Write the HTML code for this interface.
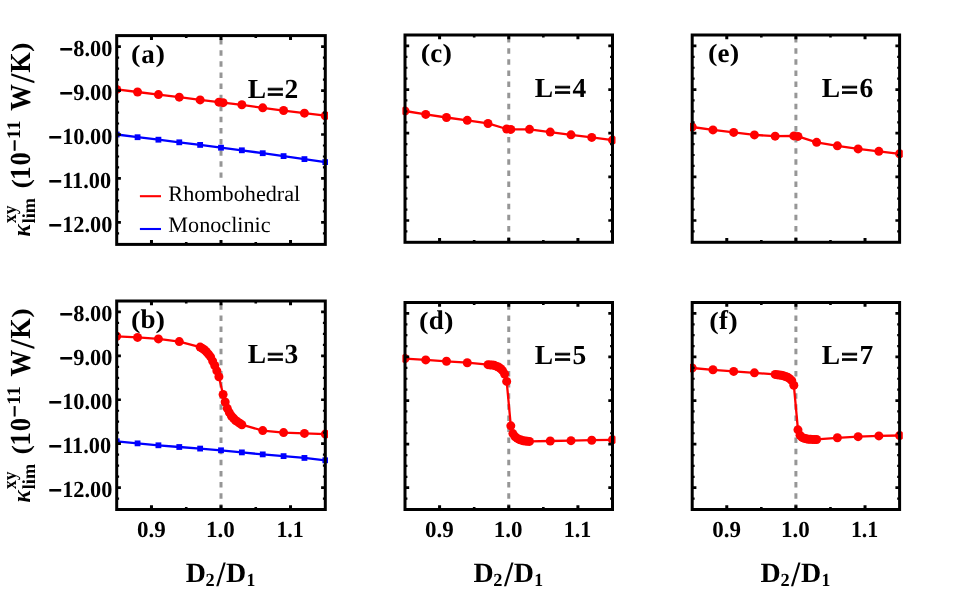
<!DOCTYPE html>
<html><head><meta charset="utf-8"><title>figure</title>
<style>html,body{margin:0;padding:0;background:#fff;}svg{display:block;will-change:transform;}text{font-family:"Liberation Serif", serif;fill:#000;text-rendering:geometricPrecision;}</style></head><body>
<svg width="970" height="592" viewBox="0 0 970 592">
<rect x="0" y="0" width="970" height="592" fill="#fff"/>
<defs>
<clipPath id="cp_a"><rect x="116.70" y="34.10" width="211.30" height="211.80"/></clipPath>
<clipPath id="cp_b"><rect x="116.70" y="299.50" width="211.30" height="211.50"/></clipPath>
<clipPath id="cp_c"><rect x="402.40" y="33.50" width="213.10" height="210.30"/></clipPath>
<clipPath id="cp_d"><rect x="402.40" y="301.00" width="213.10" height="210.00"/></clipPath>
<clipPath id="cp_e"><rect x="690.00" y="33.50" width="212.80" height="210.30"/></clipPath>
<clipPath id="cp_f"><rect x="690.00" y="301.00" width="212.80" height="210.00"/></clipPath>
</defs>
<g id="panel_a">
<g clip-path="url(#cp_a)">
<line x1="221.00" y1="27.98" x2="221.00" y2="177.86" stroke="#969696" stroke-width="3.00" stroke-dasharray="5.50 5.61"/>
<polyline points="116.70,134.50 137.56,137.21 158.42,139.70 179.28,142.31 200.14,144.91 221.00,147.70 241.86,150.30 262.72,153.20 283.58,156.10 304.44,159.11 325.30,162.10" fill="none" stroke="#0000ff" stroke-width="2.30" stroke-linejoin="round"/>
<rect x="113.80" y="131.60" width="5.80" height="5.80" fill="#0000ff"/>
<rect x="134.66" y="134.31" width="5.80" height="5.80" fill="#0000ff"/>
<rect x="155.52" y="136.80" width="5.80" height="5.80" fill="#0000ff"/>
<rect x="176.38" y="139.41" width="5.80" height="5.80" fill="#0000ff"/>
<rect x="197.24" y="142.01" width="5.80" height="5.80" fill="#0000ff"/>
<rect x="218.10" y="144.80" width="5.80" height="5.80" fill="#0000ff"/>
<rect x="238.96" y="147.40" width="5.80" height="5.80" fill="#0000ff"/>
<rect x="259.82" y="150.30" width="5.80" height="5.80" fill="#0000ff"/>
<rect x="280.68" y="153.20" width="5.80" height="5.80" fill="#0000ff"/>
<rect x="301.54" y="156.21" width="5.80" height="5.80" fill="#0000ff"/>
<rect x="322.40" y="159.20" width="5.80" height="5.80" fill="#0000ff"/>
<polyline points="116.70,89.40 137.56,92.01 158.42,94.59 179.28,97.15 200.14,99.93 218.91,102.15 223.09,102.64 241.86,104.78 262.72,107.82 283.58,110.52 304.44,113.13 325.30,115.70" fill="none" stroke="#ff0000" stroke-width="2.30" stroke-linejoin="round"/>
<circle cx="116.70" cy="89.40" r="4.50" fill="#ff0000"/>
<circle cx="137.56" cy="92.01" r="4.50" fill="#ff0000"/>
<circle cx="158.42" cy="94.59" r="4.50" fill="#ff0000"/>
<circle cx="179.28" cy="97.15" r="4.50" fill="#ff0000"/>
<circle cx="200.14" cy="99.93" r="4.50" fill="#ff0000"/>
<circle cx="218.91" cy="102.15" r="4.50" fill="#ff0000"/>
<circle cx="223.09" cy="102.64" r="4.50" fill="#ff0000"/>
<circle cx="241.86" cy="104.78" r="4.50" fill="#ff0000"/>
<circle cx="262.72" cy="107.82" r="4.50" fill="#ff0000"/>
<circle cx="283.58" cy="110.52" r="4.50" fill="#ff0000"/>
<circle cx="304.44" cy="113.13" r="4.50" fill="#ff0000"/>
<circle cx="325.30" cy="115.70" r="4.50" fill="#ff0000"/>
</g>
<rect x="116.70" y="35.60" width="208.60" height="208.80" fill="none" stroke="#000" stroke-width="3.00"/>
<path d="M151.47 244.40V240.10M151.47 35.60V39.90M221.00 244.40V240.10M221.00 35.60V39.90M290.53 244.40V240.10M290.53 35.60V39.90" stroke="#000" stroke-width="3.00" fill="none"/>
<path d="M186.23 244.40V242.00M186.23 35.60V38.00M255.77 244.40V242.00M255.77 35.60V38.00" stroke="#000" stroke-width="2.60" fill="none"/>
<path d="M116.70 222.42H120.90M325.30 222.42H321.10M116.70 178.46H120.90M325.30 178.46H321.10M116.70 134.51H120.90M325.30 134.51H321.10M116.70 90.55H120.90M325.30 90.55H321.10M116.70 46.59H120.90M325.30 46.59H321.10" stroke="#000" stroke-width="2.70" fill="none"/>
<path d="M116.70 233.41H119.10M325.30 233.41H322.90M116.70 211.43H119.10M325.30 211.43H322.90M116.70 200.44H119.10M325.30 200.44H322.90M116.70 189.45H119.10M325.30 189.45H322.90M116.70 167.47H119.10M325.30 167.47H322.90M116.70 156.48H119.10M325.30 156.48H322.90M116.70 145.49H119.10M325.30 145.49H322.90M116.70 123.52H119.10M325.30 123.52H322.90M116.70 112.53H119.10M325.30 112.53H322.90M116.70 101.54H119.10M325.30 101.54H322.90M116.70 79.56H119.10M325.30 79.56H322.90M116.70 68.57H119.10M325.30 68.57H322.90M116.70 57.58H119.10M325.30 57.58H322.90" stroke="#000" stroke-width="2.20" fill="none"/>
<text x="131.26" y="61.60" font-size="24.80" font-weight="bold" transform="translate(132.350 0) scale(1.1461 1) translate(-132.350 0)">(</text>
<text x="155.55" y="61.60" font-size="24.80" font-weight="bold" transform="translate(156.350 0) scale(1.1461 1) translate(-156.350 0)">)</text>
<text x="141.25" y="62.50" font-size="27" font-weight="bold">a</text>
<text x="247.73" y="98.15" font-size="27.50" font-weight="bold">L</text>
<text stroke="#000" stroke-width="0.9" x="266.98" y="100.55" font-size="27.50" font-weight="bold" transform="translate(268.350 0) scale(1.1030 1) translate(-268.350 0)">=</text>
<text x="284.40" y="98.15" font-size="27.5" font-weight="bold">2</text>
<text x="73.31" y="55.84" font-size="23.00" font-weight="bold" transform="translate(74.071 0) scale(0.9720 1) translate(-74.071 0)">8.00</text>
<text stroke="#000" stroke-width="0.9" x="59.67" y="56.94" font-size="23.00" font-weight="bold" transform="translate(60.878 0) scale(1.0289 1) translate(-60.878 0)">−</text>
<text x="73.31" y="99.80" font-size="23.00" font-weight="bold" transform="translate(73.940 0) scale(0.9720 1) translate(-73.940 0)">9.00</text>
<text stroke="#000" stroke-width="0.9" x="59.67" y="100.90" font-size="23.00" font-weight="bold" transform="translate(60.878 0) scale(1.0289 1) translate(-60.878 0)">−</text>
<text x="62.10" y="143.76" font-size="23.00" font-weight="bold" transform="translate(63.941 0) scale(0.9720 1) translate(-63.941 0)">10.00</text>
<text stroke="#000" stroke-width="0.9" x="48.49" y="144.86" font-size="23.00" font-weight="bold" transform="translate(49.700 0) scale(1.0289 1) translate(-49.700 0)">−</text>
<text x="62.10" y="187.71" font-size="23.00" font-weight="bold" transform="translate(63.941 0) scale(0.9720 1) translate(-63.941 0)">11.00</text>
<text stroke="#000" stroke-width="0.9" x="48.49" y="188.81" font-size="23.00" font-weight="bold" transform="translate(49.700 0) scale(1.0289 1) translate(-49.700 0)">−</text>
<text x="62.10" y="231.67" font-size="23.00" font-weight="bold" transform="translate(63.941 0) scale(0.9720 1) translate(-63.941 0)">12.00</text>
<text stroke="#000" stroke-width="0.9" x="48.49" y="232.77" font-size="23.00" font-weight="bold" transform="translate(49.700 0) scale(1.0289 1) translate(-49.700 0)">−</text>
</g>
<g id="panel_b">
<g clip-path="url(#cp_b)">
<line x1="221.00" y1="293.18" x2="221.00" y2="509.50" stroke="#969696" stroke-width="3.00" stroke-dasharray="5.50 5.61"/>
<polyline points="116.70,441.30 137.56,443.37 158.42,445.29 179.28,447.00 200.14,448.58 221.00,450.30 241.86,452.39 262.72,454.39 283.58,456.12 304.44,457.93 325.30,460.30" fill="none" stroke="#0000ff" stroke-width="2.30" stroke-linejoin="round"/>
<rect x="113.80" y="438.40" width="5.80" height="5.80" fill="#0000ff"/>
<rect x="134.66" y="440.47" width="5.80" height="5.80" fill="#0000ff"/>
<rect x="155.52" y="442.39" width="5.80" height="5.80" fill="#0000ff"/>
<rect x="176.38" y="444.10" width="5.80" height="5.80" fill="#0000ff"/>
<rect x="197.24" y="445.68" width="5.80" height="5.80" fill="#0000ff"/>
<rect x="218.10" y="447.40" width="5.80" height="5.80" fill="#0000ff"/>
<rect x="238.96" y="449.49" width="5.80" height="5.80" fill="#0000ff"/>
<rect x="259.82" y="451.49" width="5.80" height="5.80" fill="#0000ff"/>
<rect x="280.68" y="453.22" width="5.80" height="5.80" fill="#0000ff"/>
<rect x="301.54" y="455.03" width="5.80" height="5.80" fill="#0000ff"/>
<rect x="322.40" y="457.40" width="5.80" height="5.80" fill="#0000ff"/>
<polyline points="116.70,336.30 137.56,337.40 158.42,338.89 179.28,341.60 200.14,347.06 202.23,348.36 204.31,349.72 206.40,351.71 208.48,354.16 210.57,356.85 212.66,361.07 214.74,365.52 216.83,370.86 218.91,376.76 223.09,394.52 225.17,402.05 227.26,408.33 229.34,412.62 231.43,416.00 233.52,418.25 235.60,420.50 237.69,421.90 239.77,423.30 241.86,424.70 262.72,430.61 283.58,432.61 304.44,433.41 325.30,434.10" fill="none" stroke="#ff0000" stroke-width="2.30" stroke-linejoin="round"/>
<circle cx="116.70" cy="336.30" r="4.50" fill="#ff0000"/>
<circle cx="137.56" cy="337.40" r="4.50" fill="#ff0000"/>
<circle cx="158.42" cy="338.89" r="4.50" fill="#ff0000"/>
<circle cx="179.28" cy="341.60" r="4.50" fill="#ff0000"/>
<circle cx="200.14" cy="347.06" r="4.50" fill="#ff0000"/>
<circle cx="202.23" cy="348.36" r="4.50" fill="#ff0000"/>
<circle cx="204.31" cy="349.72" r="4.50" fill="#ff0000"/>
<circle cx="206.40" cy="351.71" r="4.50" fill="#ff0000"/>
<circle cx="208.48" cy="354.16" r="4.50" fill="#ff0000"/>
<circle cx="210.57" cy="356.85" r="4.50" fill="#ff0000"/>
<circle cx="212.66" cy="361.07" r="4.50" fill="#ff0000"/>
<circle cx="214.74" cy="365.52" r="4.50" fill="#ff0000"/>
<circle cx="216.83" cy="370.86" r="4.50" fill="#ff0000"/>
<circle cx="218.91" cy="376.76" r="4.50" fill="#ff0000"/>
<circle cx="223.09" cy="394.52" r="4.50" fill="#ff0000"/>
<circle cx="225.17" cy="402.05" r="4.50" fill="#ff0000"/>
<circle cx="227.26" cy="408.33" r="4.50" fill="#ff0000"/>
<circle cx="229.34" cy="412.62" r="4.50" fill="#ff0000"/>
<circle cx="231.43" cy="416.00" r="4.50" fill="#ff0000"/>
<circle cx="233.52" cy="418.25" r="4.50" fill="#ff0000"/>
<circle cx="235.60" cy="420.50" r="4.50" fill="#ff0000"/>
<circle cx="237.69" cy="421.90" r="4.50" fill="#ff0000"/>
<circle cx="239.77" cy="423.30" r="4.50" fill="#ff0000"/>
<circle cx="241.86" cy="424.70" r="4.50" fill="#ff0000"/>
<circle cx="262.72" cy="430.61" r="4.50" fill="#ff0000"/>
<circle cx="283.58" cy="432.61" r="4.50" fill="#ff0000"/>
<circle cx="304.44" cy="433.41" r="4.50" fill="#ff0000"/>
<circle cx="325.30" cy="434.10" r="4.50" fill="#ff0000"/>
</g>
<rect x="116.70" y="301.00" width="208.60" height="208.50" fill="none" stroke="#000" stroke-width="3.00"/>
<path d="M151.47 509.50V505.20M151.47 301.00V305.30M221.00 509.50V505.20M221.00 301.00V305.30M290.53 509.50V505.20M290.53 301.00V305.30" stroke="#000" stroke-width="3.00" fill="none"/>
<path d="M186.23 509.50V507.10M186.23 301.00V303.40M255.77 509.50V507.10M255.77 301.00V303.40" stroke="#000" stroke-width="2.60" fill="none"/>
<path d="M116.70 487.55H120.90M325.30 487.55H321.10M116.70 443.66H120.90M325.30 443.66H321.10M116.70 399.76H120.90M325.30 399.76H321.10M116.70 355.87H120.90M325.30 355.87H321.10M116.70 311.97H120.90M325.30 311.97H321.10" stroke="#000" stroke-width="2.70" fill="none"/>
<path d="M116.70 498.53H119.10M325.30 498.53H322.90M116.70 476.58H119.10M325.30 476.58H322.90M116.70 465.61H119.10M325.30 465.61H322.90M116.70 454.63H119.10M325.30 454.63H322.90M116.70 432.68H119.10M325.30 432.68H322.90M116.70 421.71H119.10M325.30 421.71H322.90M116.70 410.74H119.10M325.30 410.74H322.90M116.70 388.79H119.10M325.30 388.79H322.90M116.70 377.82H119.10M325.30 377.82H322.90M116.70 366.84H119.10M325.30 366.84H322.90M116.70 344.89H119.10M325.30 344.89H322.90M116.70 333.92H119.10M325.30 333.92H322.90M116.70 322.95H119.10M325.30 322.95H322.90" stroke="#000" stroke-width="2.20" fill="none"/>
<text x="131.16" y="327.50" font-size="24.80" font-weight="bold" transform="translate(132.250 0) scale(1.1461 1) translate(-132.250 0)">(</text>
<text x="155.65" y="327.50" font-size="24.80" font-weight="bold" transform="translate(156.450 0) scale(1.1461 1) translate(-156.450 0)">)</text>
<text x="140.49" y="328.40" font-size="27" font-weight="bold">b</text>
<text x="247.73" y="363.10" font-size="27.50" font-weight="bold">L</text>
<text stroke="#000" stroke-width="0.9" x="266.98" y="365.50" font-size="27.50" font-weight="bold" transform="translate(268.350 0) scale(1.1030 1) translate(-268.350 0)">=</text>
<text x="284.40" y="363.10" font-size="27.5" font-weight="bold">3</text>
<text x="73.31" y="321.22" font-size="23.00" font-weight="bold" transform="translate(74.071 0) scale(0.9720 1) translate(-74.071 0)">8.00</text>
<text stroke="#000" stroke-width="0.9" x="59.67" y="322.32" font-size="23.00" font-weight="bold" transform="translate(60.878 0) scale(1.0289 1) translate(-60.878 0)">−</text>
<text x="73.31" y="365.12" font-size="23.00" font-weight="bold" transform="translate(73.940 0) scale(0.9720 1) translate(-73.940 0)">9.00</text>
<text stroke="#000" stroke-width="0.9" x="59.67" y="366.22" font-size="23.00" font-weight="bold" transform="translate(60.878 0) scale(1.0289 1) translate(-60.878 0)">−</text>
<text x="62.10" y="409.01" font-size="23.00" font-weight="bold" transform="translate(63.941 0) scale(0.9720 1) translate(-63.941 0)">10.00</text>
<text stroke="#000" stroke-width="0.9" x="48.49" y="410.11" font-size="23.00" font-weight="bold" transform="translate(49.700 0) scale(1.0289 1) translate(-49.700 0)">−</text>
<text x="62.10" y="452.91" font-size="23.00" font-weight="bold" transform="translate(63.941 0) scale(0.9720 1) translate(-63.941 0)">11.00</text>
<text stroke="#000" stroke-width="0.9" x="48.49" y="454.01" font-size="23.00" font-weight="bold" transform="translate(49.700 0) scale(1.0289 1) translate(-49.700 0)">−</text>
<text x="62.10" y="496.80" font-size="23.00" font-weight="bold" transform="translate(63.941 0) scale(0.9720 1) translate(-63.941 0)">12.00</text>
<text stroke="#000" stroke-width="0.9" x="48.49" y="497.90" font-size="23.00" font-weight="bold" transform="translate(49.700 0) scale(1.0289 1) translate(-49.700 0)">−</text>
<text x="136.97" y="537.10" font-size="23.00" font-weight="bold" transform="translate(137.845 0) scale(1.0000 1) translate(-137.845 0)">0.9</text>
<text x="206.04" y="537.10" font-size="23.00" font-weight="bold" transform="translate(207.884 0) scale(1.0000 1) translate(-207.884 0)">1.0</text>
<text x="276.31" y="537.10" font-size="23.00" font-weight="bold" transform="translate(278.153 0) scale(0.9550 1) translate(-278.153 0)">1.1</text>
<text x="185.71" y="581.60" font-size="28.00" font-weight="bold" transform="translate(186.200 0) scale(0.9967 1) translate(-186.200 0)">D</text>
<text x="205.62" y="585.60" font-size="18.50" font-weight="bold" transform="translate(206.400 0) scale(0.9898 1) translate(-206.400 0)">2</text>
<text x="216.45" y="585.80" font-size="35.60" font-weight="bold" transform="translate(216.100 0) scale(0.9054 1) translate(-216.100 0)">/</text>
<text x="226.11" y="581.60" font-size="28.00" font-weight="bold" transform="translate(226.600 0) scale(0.9967 1) translate(-226.600 0)">D</text>
<text x="246.42" y="585.60" font-size="18.50" font-weight="bold" transform="translate(247.900 0) scale(0.9543 1) translate(-247.900 0)">1</text>
</g>
<g id="panel_c">
<g clip-path="url(#cp_c)">
<line x1="508.75" y1="25.98" x2="508.75" y2="242.30" stroke="#969696" stroke-width="3.00" stroke-dasharray="5.50 5.61"/>
<polyline points="405.00,111.00 425.75,114.42 446.50,117.51 467.25,120.32 488.00,123.46 506.68,128.99 510.82,129.40 529.50,129.35 550.25,132.12 571.00,134.86 591.75,137.42 612.50,140.10" fill="none" stroke="#ff0000" stroke-width="2.30" stroke-linejoin="round"/>
<circle cx="405.00" cy="111.00" r="4.50" fill="#ff0000"/>
<circle cx="425.75" cy="114.42" r="4.50" fill="#ff0000"/>
<circle cx="446.50" cy="117.51" r="4.50" fill="#ff0000"/>
<circle cx="467.25" cy="120.32" r="4.50" fill="#ff0000"/>
<circle cx="488.00" cy="123.46" r="4.50" fill="#ff0000"/>
<circle cx="506.68" cy="128.99" r="4.50" fill="#ff0000"/>
<circle cx="510.82" cy="129.40" r="4.50" fill="#ff0000"/>
<circle cx="529.50" cy="129.35" r="4.50" fill="#ff0000"/>
<circle cx="550.25" cy="132.12" r="4.50" fill="#ff0000"/>
<circle cx="571.00" cy="134.86" r="4.50" fill="#ff0000"/>
<circle cx="591.75" cy="137.42" r="4.50" fill="#ff0000"/>
<circle cx="612.50" cy="140.10" r="4.50" fill="#ff0000"/>
</g>
<rect x="405.00" y="35.00" width="207.50" height="207.30" fill="none" stroke="#000" stroke-width="3.00"/>
<path d="M439.58 242.30V238.00M439.58 35.00V39.30M508.75 242.30V238.00M508.75 35.00V39.30M577.92 242.30V238.00M577.92 35.00V39.30" stroke="#000" stroke-width="3.00" fill="none"/>
<path d="M474.17 242.30V239.90M474.17 35.00V37.40M543.33 242.30V239.90M543.33 35.00V37.40" stroke="#000" stroke-width="2.60" fill="none"/>
<path d="M405.00 220.48H409.20M612.50 220.48H608.30M405.00 176.84H409.20M612.50 176.84H608.30M405.00 133.19H409.20M612.50 133.19H608.30M405.00 89.55H409.20M612.50 89.55H608.30M405.00 45.91H409.20M612.50 45.91H608.30" stroke="#000" stroke-width="2.70" fill="none"/>
<path d="M405.00 231.39H407.40M612.50 231.39H610.10M405.00 209.57H407.40M612.50 209.57H610.10M405.00 198.66H407.40M612.50 198.66H610.10M405.00 187.75H407.40M612.50 187.75H610.10M405.00 165.93H407.40M612.50 165.93H610.10M405.00 155.02H407.40M612.50 155.02H610.10M405.00 144.11H407.40M612.50 144.11H610.10M405.00 122.28H407.40M612.50 122.28H610.10M405.00 111.37H407.40M612.50 111.37H610.10M405.00 100.46H407.40M612.50 100.46H610.10M405.00 78.64H407.40M612.50 78.64H610.10M405.00 67.73H407.40M612.50 67.73H610.10M405.00 56.82H407.40M612.50 56.82H610.10" stroke="#000" stroke-width="2.20" fill="none"/>
<text x="420.86" y="61.00" font-size="24.80" font-weight="bold" transform="translate(421.950 0) scale(1.1461 1) translate(-421.950 0)">(</text>
<text x="442.55" y="61.00" font-size="24.80" font-weight="bold" transform="translate(443.350 0) scale(1.1461 1) translate(-443.350 0)">)</text>
<text x="430.31" y="61.90" font-size="27" font-weight="bold">c</text>
<text x="534.83" y="96.90" font-size="27.50" font-weight="bold">L</text>
<text stroke="#000" stroke-width="0.9" x="554.08" y="99.30" font-size="27.50" font-weight="bold" transform="translate(555.450 0) scale(1.1030 1) translate(-555.450 0)">=</text>
<text x="572.40" y="96.90" font-size="27.5" font-weight="bold">4</text>
</g>
<g id="panel_d">
<g clip-path="url(#cp_d)">
<line x1="508.75" y1="293.18" x2="508.75" y2="509.50" stroke="#969696" stroke-width="3.00" stroke-dasharray="5.50 5.61"/>
<polyline points="405.00,358.60 425.75,359.90 446.50,361.29 467.25,362.70 488.00,364.69 490.07,364.89 492.15,365.10 494.23,365.31 496.30,366.14 498.38,366.97 500.45,368.55 502.53,370.62 504.60,374.00 506.68,381.39 510.82,425.87 512.90,433.61 514.97,436.62 517.05,438.14 519.12,439.41 521.20,440.12 523.27,440.82 525.35,441.06 527.42,441.24 529.50,441.39 550.25,441.00 571.00,440.69 591.75,440.20 612.50,439.80" fill="none" stroke="#ff0000" stroke-width="2.30" stroke-linejoin="round"/>
<circle cx="405.00" cy="358.60" r="4.50" fill="#ff0000"/>
<circle cx="425.75" cy="359.90" r="4.50" fill="#ff0000"/>
<circle cx="446.50" cy="361.29" r="4.50" fill="#ff0000"/>
<circle cx="467.25" cy="362.70" r="4.50" fill="#ff0000"/>
<circle cx="488.00" cy="364.69" r="4.50" fill="#ff0000"/>
<circle cx="490.07" cy="364.89" r="4.50" fill="#ff0000"/>
<circle cx="492.15" cy="365.10" r="4.50" fill="#ff0000"/>
<circle cx="494.23" cy="365.31" r="4.50" fill="#ff0000"/>
<circle cx="496.30" cy="366.14" r="4.50" fill="#ff0000"/>
<circle cx="498.38" cy="366.97" r="4.50" fill="#ff0000"/>
<circle cx="500.45" cy="368.55" r="4.50" fill="#ff0000"/>
<circle cx="502.53" cy="370.62" r="4.50" fill="#ff0000"/>
<circle cx="504.60" cy="374.00" r="4.50" fill="#ff0000"/>
<circle cx="506.68" cy="381.39" r="4.50" fill="#ff0000"/>
<circle cx="510.82" cy="425.87" r="4.50" fill="#ff0000"/>
<circle cx="512.90" cy="433.61" r="4.50" fill="#ff0000"/>
<circle cx="514.97" cy="436.62" r="4.50" fill="#ff0000"/>
<circle cx="517.05" cy="438.14" r="4.50" fill="#ff0000"/>
<circle cx="519.12" cy="439.41" r="4.50" fill="#ff0000"/>
<circle cx="521.20" cy="440.12" r="4.50" fill="#ff0000"/>
<circle cx="523.27" cy="440.82" r="4.50" fill="#ff0000"/>
<circle cx="525.35" cy="441.06" r="4.50" fill="#ff0000"/>
<circle cx="527.42" cy="441.24" r="4.50" fill="#ff0000"/>
<circle cx="529.50" cy="441.39" r="4.50" fill="#ff0000"/>
<circle cx="550.25" cy="441.00" r="4.50" fill="#ff0000"/>
<circle cx="571.00" cy="440.69" r="4.50" fill="#ff0000"/>
<circle cx="591.75" cy="440.20" r="4.50" fill="#ff0000"/>
<circle cx="612.50" cy="439.80" r="4.50" fill="#ff0000"/>
</g>
<rect x="405.00" y="302.50" width="207.50" height="207.00" fill="none" stroke="#000" stroke-width="3.00"/>
<path d="M439.58 509.50V505.20M439.58 302.50V306.80M508.75 509.50V505.20M508.75 302.50V306.80M577.92 509.50V505.20M577.92 302.50V306.80" stroke="#000" stroke-width="3.00" fill="none"/>
<path d="M474.17 509.50V507.10M474.17 302.50V304.90M543.33 509.50V507.10M543.33 302.50V304.90" stroke="#000" stroke-width="2.60" fill="none"/>
<path d="M405.00 487.71H409.20M612.50 487.71H608.30M405.00 444.13H409.20M612.50 444.13H608.30M405.00 400.55H409.20M612.50 400.55H608.30M405.00 356.97H409.20M612.50 356.97H608.30M405.00 313.39H409.20M612.50 313.39H608.30" stroke="#000" stroke-width="2.70" fill="none"/>
<path d="M405.00 498.61H407.40M612.50 498.61H610.10M405.00 476.82H407.40M612.50 476.82H610.10M405.00 465.92H407.40M612.50 465.92H610.10M405.00 455.03H407.40M612.50 455.03H610.10M405.00 433.24H407.40M612.50 433.24H610.10M405.00 422.34H407.40M612.50 422.34H610.10M405.00 411.45H407.40M612.50 411.45H610.10M405.00 389.66H407.40M612.50 389.66H610.10M405.00 378.76H407.40M612.50 378.76H610.10M405.00 367.87H407.40M612.50 367.87H610.10M405.00 346.08H407.40M612.50 346.08H610.10M405.00 335.18H407.40M612.50 335.18H610.10M405.00 324.29H407.40M612.50 324.29H610.10" stroke="#000" stroke-width="2.20" fill="none"/>
<text x="419.21" y="328.50" font-size="24.80" font-weight="bold" transform="translate(420.300 0) scale(1.1461 1) translate(-420.300 0)">(</text>
<text x="444.20" y="328.50" font-size="24.80" font-weight="bold" transform="translate(445.000 0) scale(1.1461 1) translate(-445.000 0)">)</text>
<text x="428.79" y="329.40" font-size="27" font-weight="bold">d</text>
<text x="534.83" y="364.00" font-size="27.50" font-weight="bold">L</text>
<text stroke="#000" stroke-width="0.9" x="554.08" y="366.40" font-size="27.50" font-weight="bold" transform="translate(555.450 0) scale(1.1030 1) translate(-555.450 0)">=</text>
<text x="572.40" y="364.00" font-size="27.5" font-weight="bold">5</text>
<text x="425.09" y="537.10" font-size="23.00" font-weight="bold" transform="translate(425.962 0) scale(1.0000 1) translate(-425.962 0)">0.9</text>
<text x="493.79" y="537.10" font-size="23.00" font-weight="bold" transform="translate(495.634 0) scale(1.0000 1) translate(-495.634 0)">1.0</text>
<text x="563.69" y="537.10" font-size="23.00" font-weight="bold" transform="translate(565.536 0) scale(0.9550 1) translate(-565.536 0)">1.1</text>
<text x="473.46" y="581.60" font-size="28.00" font-weight="bold" transform="translate(473.950 0) scale(0.9967 1) translate(-473.950 0)">D</text>
<text x="493.37" y="585.60" font-size="18.50" font-weight="bold" transform="translate(494.150 0) scale(0.9898 1) translate(-494.150 0)">2</text>
<text x="504.20" y="585.80" font-size="35.60" font-weight="bold" transform="translate(503.850 0) scale(0.9054 1) translate(-503.850 0)">/</text>
<text x="513.86" y="581.60" font-size="28.00" font-weight="bold" transform="translate(514.350 0) scale(0.9967 1) translate(-514.350 0)">D</text>
<text x="534.17" y="585.60" font-size="18.50" font-weight="bold" transform="translate(535.650 0) scale(0.9543 1) translate(-535.650 0)">1</text>
</g>
<g id="panel_e">
<g clip-path="url(#cp_e)">
<line x1="795.90" y1="25.98" x2="795.90" y2="242.30" stroke="#969696" stroke-width="3.00" stroke-dasharray="5.50 5.61"/>
<polyline points="692.20,127.00 712.94,129.92 733.68,132.41 754.42,134.91 775.16,136.19 793.83,135.91 797.97,136.40 816.64,142.37 837.38,145.81 858.12,148.94 878.86,151.32 899.60,153.80" fill="none" stroke="#ff0000" stroke-width="2.30" stroke-linejoin="round"/>
<circle cx="692.20" cy="127.00" r="4.50" fill="#ff0000"/>
<circle cx="712.94" cy="129.92" r="4.50" fill="#ff0000"/>
<circle cx="733.68" cy="132.41" r="4.50" fill="#ff0000"/>
<circle cx="754.42" cy="134.91" r="4.50" fill="#ff0000"/>
<circle cx="775.16" cy="136.19" r="4.50" fill="#ff0000"/>
<circle cx="793.83" cy="135.91" r="4.50" fill="#ff0000"/>
<circle cx="797.97" cy="136.40" r="4.50" fill="#ff0000"/>
<circle cx="816.64" cy="142.37" r="4.50" fill="#ff0000"/>
<circle cx="837.38" cy="145.81" r="4.50" fill="#ff0000"/>
<circle cx="858.12" cy="148.94" r="4.50" fill="#ff0000"/>
<circle cx="878.86" cy="151.32" r="4.50" fill="#ff0000"/>
<circle cx="899.60" cy="153.80" r="4.50" fill="#ff0000"/>
</g>
<rect x="692.20" y="35.00" width="207.40" height="207.30" fill="none" stroke="#000" stroke-width="3.00"/>
<path d="M726.77 242.30V238.00M726.77 35.00V39.30M795.90 242.30V238.00M795.90 35.00V39.30M865.03 242.30V238.00M865.03 35.00V39.30" stroke="#000" stroke-width="3.00" fill="none"/>
<path d="M761.33 242.30V239.90M761.33 35.00V37.40M830.47 242.30V239.90M830.47 35.00V37.40" stroke="#000" stroke-width="2.60" fill="none"/>
<path d="M692.20 220.48H696.40M899.60 220.48H895.40M692.20 176.84H696.40M899.60 176.84H895.40M692.20 133.19H696.40M899.60 133.19H895.40M692.20 89.55H696.40M899.60 89.55H895.40M692.20 45.91H696.40M899.60 45.91H895.40" stroke="#000" stroke-width="2.70" fill="none"/>
<path d="M692.20 231.39H694.60M899.60 231.39H897.20M692.20 209.57H694.60M899.60 209.57H897.20M692.20 198.66H694.60M899.60 198.66H897.20M692.20 187.75H694.60M899.60 187.75H897.20M692.20 165.93H694.60M899.60 165.93H897.20M692.20 155.02H694.60M899.60 155.02H897.20M692.20 144.11H694.60M899.60 144.11H897.20M692.20 122.28H694.60M899.60 122.28H897.20M692.20 111.37H694.60M899.60 111.37H897.20M692.20 100.46H694.60M899.60 100.46H897.20M692.20 78.64H694.60M899.60 78.64H897.20M692.20 67.73H694.60M899.60 67.73H897.20M692.20 56.82H694.60M899.60 56.82H897.20" stroke="#000" stroke-width="2.20" fill="none"/>
<text x="708.06" y="61.00" font-size="24.80" font-weight="bold" transform="translate(709.150 0) scale(1.1461 1) translate(-709.150 0)">(</text>
<text x="729.75" y="61.00" font-size="24.80" font-weight="bold" transform="translate(730.550 0) scale(1.1461 1) translate(-730.550 0)">)</text>
<text x="717.51" y="61.90" font-size="27" font-weight="bold">e</text>
<text x="821.83" y="96.90" font-size="27.50" font-weight="bold">L</text>
<text stroke="#000" stroke-width="0.9" x="841.08" y="99.30" font-size="27.50" font-weight="bold" transform="translate(842.450 0) scale(1.1030 1) translate(-842.450 0)">=</text>
<text x="859.40" y="96.90" font-size="27.5" font-weight="bold">6</text>
</g>
<g id="panel_f">
<g clip-path="url(#cp_f)">
<line x1="795.90" y1="293.18" x2="795.90" y2="509.50" stroke="#969696" stroke-width="3.00" stroke-dasharray="5.50 5.61"/>
<polyline points="692.20,368.00 712.94,369.79 733.68,371.41 754.42,372.81 775.16,374.41 777.23,374.70 779.31,374.99 781.38,375.28 783.46,375.82 785.53,376.51 787.60,377.30 789.68,378.65 791.75,380.69 793.83,385.22 797.97,429.85 800.05,435.35 802.12,437.42 804.20,438.27 806.27,438.86 808.34,439.23 810.42,439.30 812.49,439.38 814.57,439.45 816.64,439.45 837.38,437.79 858.12,436.69 878.86,435.90 899.60,435.50" fill="none" stroke="#ff0000" stroke-width="2.30" stroke-linejoin="round"/>
<circle cx="692.20" cy="368.00" r="4.50" fill="#ff0000"/>
<circle cx="712.94" cy="369.79" r="4.50" fill="#ff0000"/>
<circle cx="733.68" cy="371.41" r="4.50" fill="#ff0000"/>
<circle cx="754.42" cy="372.81" r="4.50" fill="#ff0000"/>
<circle cx="775.16" cy="374.41" r="4.50" fill="#ff0000"/>
<circle cx="777.23" cy="374.70" r="4.50" fill="#ff0000"/>
<circle cx="779.31" cy="374.99" r="4.50" fill="#ff0000"/>
<circle cx="781.38" cy="375.28" r="4.50" fill="#ff0000"/>
<circle cx="783.46" cy="375.82" r="4.50" fill="#ff0000"/>
<circle cx="785.53" cy="376.51" r="4.50" fill="#ff0000"/>
<circle cx="787.60" cy="377.30" r="4.50" fill="#ff0000"/>
<circle cx="789.68" cy="378.65" r="4.50" fill="#ff0000"/>
<circle cx="791.75" cy="380.69" r="4.50" fill="#ff0000"/>
<circle cx="793.83" cy="385.22" r="4.50" fill="#ff0000"/>
<circle cx="797.97" cy="429.85" r="4.50" fill="#ff0000"/>
<circle cx="800.05" cy="435.35" r="4.50" fill="#ff0000"/>
<circle cx="802.12" cy="437.42" r="4.50" fill="#ff0000"/>
<circle cx="804.20" cy="438.27" r="4.50" fill="#ff0000"/>
<circle cx="806.27" cy="438.86" r="4.50" fill="#ff0000"/>
<circle cx="808.34" cy="439.23" r="4.50" fill="#ff0000"/>
<circle cx="810.42" cy="439.30" r="4.50" fill="#ff0000"/>
<circle cx="812.49" cy="439.38" r="4.50" fill="#ff0000"/>
<circle cx="814.57" cy="439.45" r="4.50" fill="#ff0000"/>
<circle cx="816.64" cy="439.45" r="4.50" fill="#ff0000"/>
<circle cx="837.38" cy="437.79" r="4.50" fill="#ff0000"/>
<circle cx="858.12" cy="436.69" r="4.50" fill="#ff0000"/>
<circle cx="878.86" cy="435.90" r="4.50" fill="#ff0000"/>
<circle cx="899.60" cy="435.50" r="4.50" fill="#ff0000"/>
</g>
<rect x="692.20" y="302.50" width="207.40" height="207.00" fill="none" stroke="#000" stroke-width="3.00"/>
<path d="M726.77 509.50V505.20M726.77 302.50V306.80M795.90 509.50V505.20M795.90 302.50V306.80M865.03 509.50V505.20M865.03 302.50V306.80" stroke="#000" stroke-width="3.00" fill="none"/>
<path d="M761.33 509.50V507.10M761.33 302.50V304.90M830.47 509.50V507.10M830.47 302.50V304.90" stroke="#000" stroke-width="2.60" fill="none"/>
<path d="M692.20 487.71H696.40M899.60 487.71H895.40M692.20 444.13H696.40M899.60 444.13H895.40M692.20 400.55H696.40M899.60 400.55H895.40M692.20 356.97H696.40M899.60 356.97H895.40M692.20 313.39H696.40M899.60 313.39H895.40" stroke="#000" stroke-width="2.70" fill="none"/>
<path d="M692.20 498.61H694.60M899.60 498.61H897.20M692.20 476.82H694.60M899.60 476.82H897.20M692.20 465.92H694.60M899.60 465.92H897.20M692.20 455.03H694.60M899.60 455.03H897.20M692.20 433.24H694.60M899.60 433.24H897.20M692.20 422.34H694.60M899.60 422.34H897.20M692.20 411.45H694.60M899.60 411.45H897.20M692.20 389.66H694.60M899.60 389.66H897.20M692.20 378.76H694.60M899.60 378.76H897.20M692.20 367.87H694.60M899.60 367.87H897.20M692.20 346.08H694.60M899.60 346.08H897.20M692.20 335.18H694.60M899.60 335.18H897.20M692.20 324.29H694.60M899.60 324.29H897.20" stroke="#000" stroke-width="2.20" fill="none"/>
<text x="709.41" y="328.50" font-size="24.80" font-weight="bold" transform="translate(710.500 0) scale(1.1461 1) translate(-710.500 0)">(</text>
<text x="728.40" y="328.50" font-size="24.80" font-weight="bold" transform="translate(729.200 0) scale(1.1461 1) translate(-729.200 0)">)</text>
<text x="719.00" y="329.40" font-size="27" font-weight="bold">f</text>
<text x="821.83" y="364.00" font-size="27.50" font-weight="bold">L</text>
<text stroke="#000" stroke-width="0.9" x="841.08" y="366.40" font-size="27.50" font-weight="bold" transform="translate(842.450 0) scale(1.1030 1) translate(-842.450 0)">=</text>
<text x="859.40" y="364.00" font-size="27.5" font-weight="bold">7</text>
<text x="712.27" y="537.10" font-size="23.00" font-weight="bold" transform="translate(713.145 0) scale(1.0000 1) translate(-713.145 0)">0.9</text>
<text x="780.94" y="537.10" font-size="23.00" font-weight="bold" transform="translate(782.784 0) scale(1.0000 1) translate(-782.784 0)">1.0</text>
<text x="850.81" y="537.10" font-size="23.00" font-weight="bold" transform="translate(852.653 0) scale(0.9550 1) translate(-852.653 0)">1.1</text>
<text x="760.61" y="581.60" font-size="28.00" font-weight="bold" transform="translate(761.100 0) scale(0.9967 1) translate(-761.100 0)">D</text>
<text x="780.52" y="585.60" font-size="18.50" font-weight="bold" transform="translate(781.300 0) scale(0.9898 1) translate(-781.300 0)">2</text>
<text x="791.35" y="585.80" font-size="35.60" font-weight="bold" transform="translate(791.000 0) scale(0.9054 1) translate(-791.000 0)">/</text>
<text x="801.01" y="581.60" font-size="28.00" font-weight="bold" transform="translate(801.500 0) scale(0.9967 1) translate(-801.500 0)">D</text>
<text x="821.32" y="585.60" font-size="18.50" font-weight="bold" transform="translate(822.800 0) scale(0.9543 1) translate(-822.800 0)">1</text>
</g>
<g id="legend">
<line x1="139.9" y1="196.2" x2="161.0" y2="196.2" stroke="#ff0000" stroke-width="2.1"/>
<line x1="139.9" y1="229.0" x2="161.0" y2="229.0" stroke="#0000ff" stroke-width="2.1"/>
<text x="168.37" y="200.55" font-size="22.00" transform="translate(169.000 0) scale(1.0086 1) translate(-169.000 0)">Rhombohedral</text>
<text x="168.37" y="232.45" font-size="22.00" transform="translate(169.000 0) scale(1.0078 1) translate(-169.000 0)">Monoclinic</text>
</g>
<g transform="translate(30.10,236.60) rotate(-90) scale(1,1.070)">
<text x="0.05" y="0.00" font-size="24.40" font-weight="bold" font-style="italic" transform="translate(0.600 0) scale(0.9517 1) translate(-0.600 0)">κ</text>
<text x="13.53" y="-13.40" font-size="18.10" font-weight="bold" transform="translate(13.600 0) scale(0.9634 1) translate(-13.600 0)">xy</text>
<text x="13.26" y="4.50" font-size="17.20" font-weight="bold" transform="translate(13.600 0) scale(1.0578 1) translate(-13.600 0)">lim</text>
<text x="48.22" y="-1.40" font-size="23.50" font-weight="bold" transform="translate(49.250 0) scale(1.2012 1) translate(-49.250 0)">(</text>
<text x="56.62" y="0.00" font-size="27.20" font-weight="bold">1</text>
<text x="71.11" y="0.00" font-size="27.20" font-weight="bold" transform="translate(72.150 0) scale(0.9672 1) translate(-72.150 0)">0</text>
<text stroke="#000" stroke-width="0.50" x="85.30" y="-8.10" font-size="18.00" font-weight="bold" transform="translate(86.250 0) scale(1.1772 1) translate(-86.250 0)">−</text>
<text x="97.76" y="-9.50" font-size="18.00" font-weight="bold" transform="translate(99.200 0) scale(1.0879 1) translate(-99.200 0)">11</text>
<text x="125.86" y="0.00" font-size="27.20" font-weight="bold" transform="translate(126.250 0) scale(0.9814 1) translate(-126.250 0)">W</text>
<text x="153.67" y="4.10" font-size="32.40" font-weight="bold" transform="translate(153.350 0) scale(1.0362 1) translate(-153.350 0)">/</text>
<text x="163.79" y="0.00" font-size="27.20" font-weight="bold" transform="translate(164.250 0) scale(0.9668 1) translate(-164.250 0)">K</text>
<text x="184.89" y="-1.40" font-size="23.50" font-weight="bold" transform="translate(185.650 0) scale(1.2260 1) translate(-185.650 0)">)</text>
</g>
<g transform="translate(30.10,502.45) rotate(-90) scale(1,1.070)">
<text x="0.05" y="0.00" font-size="24.40" font-weight="bold" font-style="italic" transform="translate(0.600 0) scale(0.9517 1) translate(-0.600 0)">κ</text>
<text x="13.53" y="-13.40" font-size="18.10" font-weight="bold" transform="translate(13.600 0) scale(0.9634 1) translate(-13.600 0)">xy</text>
<text x="13.26" y="4.50" font-size="17.20" font-weight="bold" transform="translate(13.600 0) scale(1.0578 1) translate(-13.600 0)">lim</text>
<text x="48.22" y="-1.40" font-size="23.50" font-weight="bold" transform="translate(49.250 0) scale(1.2012 1) translate(-49.250 0)">(</text>
<text x="56.62" y="0.00" font-size="27.20" font-weight="bold">1</text>
<text x="71.11" y="0.00" font-size="27.20" font-weight="bold" transform="translate(72.150 0) scale(0.9672 1) translate(-72.150 0)">0</text>
<text stroke="#000" stroke-width="0.50" x="85.30" y="-8.10" font-size="18.00" font-weight="bold" transform="translate(86.250 0) scale(1.1772 1) translate(-86.250 0)">−</text>
<text x="97.76" y="-9.50" font-size="18.00" font-weight="bold" transform="translate(99.200 0) scale(1.0879 1) translate(-99.200 0)">11</text>
<text x="125.86" y="0.00" font-size="27.20" font-weight="bold" transform="translate(126.250 0) scale(0.9814 1) translate(-126.250 0)">W</text>
<text x="153.67" y="4.10" font-size="32.40" font-weight="bold" transform="translate(153.350 0) scale(1.0362 1) translate(-153.350 0)">/</text>
<text x="163.79" y="0.00" font-size="27.20" font-weight="bold" transform="translate(164.250 0) scale(0.9668 1) translate(-164.250 0)">K</text>
<text x="184.89" y="-1.40" font-size="23.50" font-weight="bold" transform="translate(185.650 0) scale(1.2260 1) translate(-185.650 0)">)</text>
</g>
</svg></body></html>
